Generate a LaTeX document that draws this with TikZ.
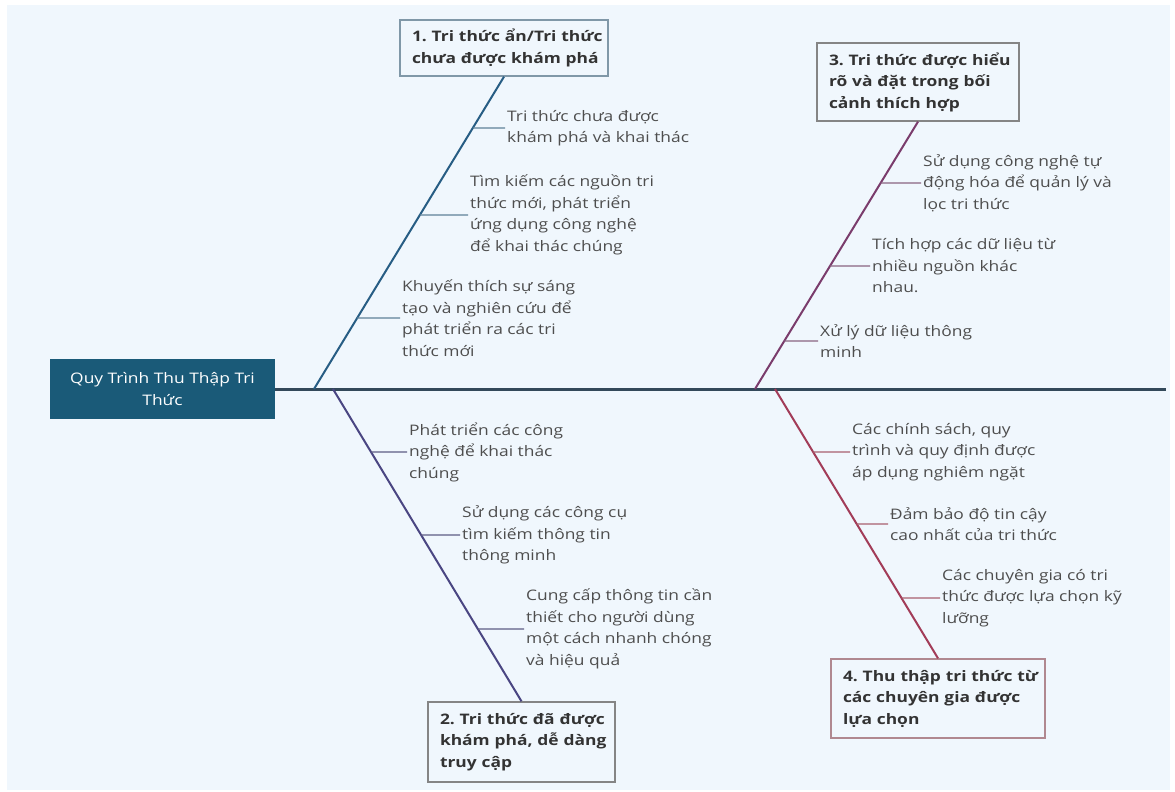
\documentclass[tikz,border=0pt]{standalone}
\usepackage{fontspec}
\setmainfont{Open Sans}[FakeStretch=1.2]
\usetikzlibrary{intersections}

\definecolor{pagebg}{HTML}{F0F7FD}
\definecolor{headblue}{HTML}{1A5A78}
\definecolor{spinecol}{HTML}{33495A}
\definecolor{boneA}{HTML}{275D84}
\definecolor{boneB}{HTML}{4A4682}
\definecolor{boneC}{HTML}{7A3C6C}
\definecolor{boneD}{HTML}{A23C58}
\definecolor{tickA}{HTML}{5F8299}
\definecolor{tickB}{HTML}{5E5C84}
\definecolor{tickC}{HTML}{8A6482}
\definecolor{tickD}{HTML}{A8606F}
\definecolor{frameA}{HTML}{8098A8}
\definecolor{frameB}{HTML}{858585}
\definecolor{frameD}{HTML}{B08890}
\definecolor{subtxt}{HTML}{4E4E4E}
\definecolor{titletxt}{HTML}{333333}

\newcommand{\labelfont}{\fontsize{14.5}{21.5}\selectfont}

\tikzset{
  head/.style={fill=headblue, text=white, align=center, font=\labelfont,
    minimum width=225pt, minimum height=60pt, inner sep=0pt},
  spine/.style={draw=spinecol, line width=3pt},
  bone/.style={line width=2pt},
  tick/.style={line width=1.1pt, shorten >=2pt},
  sub/.style={anchor=west, inner sep=0pt, align=left, font=\labelfont, text=subtxt},
  titlebox/.style={draw, line width=1.4pt, fill=pagebg, align=left,
    font=\bfseries\labelfont, text=titletxt, inner xsep=12pt, inner ysep=0pt},
}

% horizontal tick from a bone to the left edge of a label
\newcommand{\bonetick}[3]{%
  \path[name path=hline-#2] (#2.west) -- ++(-320,0);
  \draw[tick, #3, name intersections={of=#1 and hline-#2}] (intersection-1) -- (#2.west);
}

\begin{document}
\begin{tikzpicture}[x=1pt, y=-1pt]
  \fill[white] (0,0) rectangle (1175,792);
  \fill[pagebg] (7,5) rectangle (1170,790);
  \useasboundingbox (0,0) rectangle (1175,792);

  % head and spine
  \node[head] (head) at (162.5,389) {Quy Trình Thu Thập Tri\\Thức};
  \coordinate (tail) at (1166,389);
  \draw[spine] (head.east) -- (tail);

  % category boxes
  \node[titlebox, draw=frameA, minimum width=208pt, minimum height=56pt, text width=184pt]
    (t1) at (504,48) {1.~Tri~thức~ẩn/Tri~thức\\chưa~được~khám~phá};
  \node[titlebox, draw=frameB, minimum width=187pt, minimum height=80pt, text width=163pt]
    (t2) at (521.5,742) {2.~Tri~thức~đã~được\\khám~phá,~dễ~dàng\\truy~cập};
  \node[titlebox, draw=frameB, minimum width=202pt, minimum height=78pt, text width=178pt]
    (t3) at (918,82) {3.~Tri~thức~được~hiểu\\rõ~và~đặt~trong~bối\\cảnh~thích~hợp};
  \node[titlebox, draw=frameD, minimum width=214pt, minimum height=79pt, text width=190pt]
    (t4) at (938,698.5) {4.~Thu~thập~tri~thức~từ\\các~chuyên~gia~được\\lựa~chọn};

  % bones
  \coordinate (b1base) at (314,389);
  \coordinate (b2base) at (333,389);
  \coordinate (b3base) at (755,389);
  \coordinate (b4base) at (775,389);
  \draw[bone, boneA, name path=boneone]   (b1base) -- (t1.south);
  \draw[bone, boneB, name path=bonetwo]   (b2base) -- (t2.north);
  \draw[bone, boneC, name path=bonethree] (b3base) -- (t3.south);
  \draw[bone, boneD, name path=bonefour]  (b4base) -- (t4.north);

  % labels of bone 1
  \node[sub] (s1a) at (507,128) {Tri thức chưa được\\khám phá và khai thác};
  \node[sub] (s1b) at (470,215) {Tìm kiếm các nguồn tri\\thức mới, phát triển\\ứng dụng công nghệ\\để khai thác chúng};
  \node[sub] (s1c) at (402,318) {Khuyến thích sự sáng\\tạo và nghiên cứu để\\phát triển ra các tri\\thức mới};

  % labels of bone 2
  \node[sub] (s2a) at (409,452) {Phát triển các công\\nghệ để khai thác\\chúng};
  \node[sub] (s2b) at (462,535) {Sử dụng các công cụ\\tìm kiếm thông tin\\thông minh};
  \node[sub] (s2c) at (526,629) {Cung cấp thông tin cần\\thiết cho người dùng\\một cách nhanh chóng\\và hiệu quả};

  % labels of bone 3
  \node[sub] (s3a) at (923,183) {Sử dụng công nghệ tự\\động hóa để quản lý và\\lọc tri thức};
  \node[sub] (s3b) at (872,266) {Tích hợp các dữ liệu từ\\nhiều nguồn khác\\nhau.};
  \node[sub] (s3c) at (820,341) {Xử lý dữ liệu thông\\minh};

  % labels of bone 4
  \node[sub] (s4a) at (852,452) {Các chính sách, quy\\trình và quy định được\\áp dụng nghiêm ngặt};
  \node[sub] (s4b) at (890,524) {Đảm bảo độ tin cậy\\cao nhất của tri thức};
  \node[sub] (s4c) at (942,598) {Các chuyên gia có tri\\thức được lựa chọn kỹ\\lưỡng};

  % ticks
  \bonetick{boneone}{s1a}{tickA}
  \bonetick{boneone}{s1b}{tickA}
  \bonetick{boneone}{s1c}{tickA}
  \bonetick{bonetwo}{s2a}{tickB}
  \bonetick{bonetwo}{s2b}{tickB}
  \bonetick{bonetwo}{s2c}{tickB}
  \bonetick{bonethree}{s3a}{tickC}
  \bonetick{bonethree}{s3b}{tickC}
  \bonetick{bonethree}{s3c}{tickC}
  \bonetick{bonefour}{s4a}{tickD}
  \bonetick{bonefour}{s4b}{tickD}
  \bonetick{bonefour}{s4c}{tickD}
\end{tikzpicture}
\end{document}
